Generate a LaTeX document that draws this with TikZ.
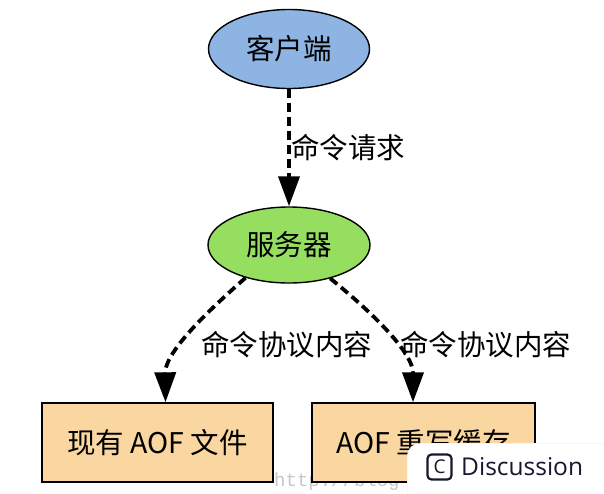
\documentclass[tikz,border=0pt]{standalone}
\usepackage{fontspec}
\newfontfamily\cjk{Noto Sans CJK SC}
\newfontfamily\uifont{Open Sans}
\newfontfamily\wmfont{Liberation Mono}
\usetikzlibrary{arrows.meta,shapes.geometric}
\definecolor{cliblue}{RGB}{141,180,226}
\definecolor{srvgreen}{RGB}{150,222,96}
\definecolor{boxtan}{RGB}{250,215,160}
\definecolor{uinavy}{RGB}{22,24,48}
\tikzset{
  ell/.style={ellipse, draw=black, line width=1.4pt, minimum width=161pt, minimum height=79pt, inner sep=0pt, font=\cjk\fontsize{28.5}{33}\selectfont},
  filebox/.style={rectangle, draw=black, line width=1.4pt, minimum width=231pt, minimum height=79pt, inner sep=0pt, fill=boxtan, font=\cjk\fontsize{28.5}{33}\selectfont},
  lbl/.style={font=\cjk\fontsize{28.5}{33}\selectfont, inner sep=0pt, anchor=west},
  darr/.style={line width=3.8pt, dash pattern=on 9pt off 5pt, -{Triangle[length=30pt,width=21pt]}}
}
\begin{document}
\begin{tikzpicture}[x=1pt,y=-1pt]
\useasboundingbox[fill=white] (0,0) rectangle (604,493);
% watermark
\node[font=\wmfont\fontsize{19}{21}\selectfont, text=black!22, anchor=west, inner sep=0pt] (wm) at (274,482) {http://blog};
\node[ell, fill=cliblue] (cli) at (289,49) {客户端};
\node[ell, fill=srvgreen, minimum height=76pt, minimum width=162pt] (srv) at (289,245) {服务器};
\node[filebox] (f1) at (157.5,442.5) {现有 AOF 文件};
\node[filebox, minimum width=223pt] (f2) at (423.5,442.5) {AOF 重写缓存};
\node[lbl] (l1) at (291,148) {命令请求};
\node[lbl] (l2) at (201,345) {命令协议内容};
\node[lbl] (l3) at (400,345) {命令协议内容};
\coordinate (e1) at ([xshift=8pt]f1.north);
\coordinate (e2) at ([xshift=-10.5pt]f2.north);
\draw[darr] (cli.south) -- (srv.north);
\draw[darr] (srv.217) .. controls (215,305) and (165,350) .. (e1);
\draw[darr] (srv.321) .. controls (363,305) and (413,350) .. (e2);
% overlay button
\node[draw=black!8, fill=white, rounded corners=13pt, minimum width=220pt, minimum height=66pt, anchor=north west, inner sep=0pt] (ov) at (407,443) {};
\node[draw=uinavy, line width=2.2pt, rounded corners=4pt, minimum width=24pt, minimum height=25pt, inner sep=0pt, font=\uifont\fontsize{19}{20}\selectfont, text=uinavy] (ic) at (439.5,467) {C};
\node[font=\uifont\fontsize{24.5}{28}\selectfont, text=uinavy, anchor=west, inner sep=0pt] (dtxt) at (461,467) {Discussion};
\end{tikzpicture}
\end{document}
